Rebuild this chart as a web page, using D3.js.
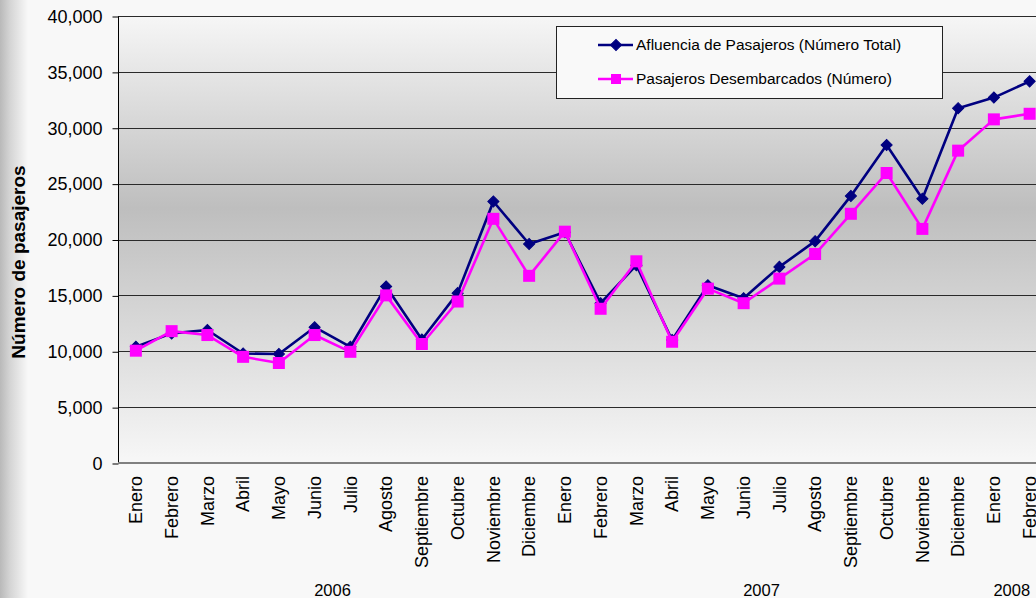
<!DOCTYPE html>
<html>
<head>
<meta charset="utf-8">
<script src="https://cdn.jsdelivr.net/npm/d3@7"></script>
<style>
  html, body { margin: 0; padding: 0; background: #f8f8f8; overflow: hidden; }
  svg { display: block; font-family: Arial, "Liberation Sans", sans-serif; }
</style>
</head>
<body>
<div id="chart"></div>
<script>
// month labels along the bottom (2006 Jan .. 2008 Feb)
const months = ['Enero', 'Febrero', 'Marzo', 'Abril', 'Mayo', 'Junio', 'Julio', 'Agosto', 'Septiembre', 'Octubre', 'Noviembre', 'Diciembre',
  'Enero', 'Febrero', 'Marzo', 'Abril', 'Mayo', 'Junio', 'Julio', 'Agosto', 'Septiembre', 'Octubre', 'Noviembre', 'Diciembre',
  'Enero', 'Febrero'];
const yearLabels = ['2006', '2007', '2008'];
const yearFirst = [0, 12, 24];
const yearLast = [11, 23, 25];

// Afluencia de Pasajeros (Número Total)
const totalPax = [10400, 11600, 11900, 9800, 9750, 12150, 10400, 15800, 11050, 15200, 23400, 19600,
  20650, 14300, 17700, 11000, 15900, 14750, 17550, 19850, 23900, 28450, 23650, 31750,
  32700, 34150];
// Pasajeros Desembarcados (Número)
const desembPax = [10050, 11800, 11450, 9500, 8950, 11450, 9950, 15000, 10650, 14450, 21850, 16750,
  20700, 13800, 18050, 10850, 15600, 14300, 16500, 18700, 22300, 25950, 20950, 27950,
  30750, 31250];

const yTicks = [0, 5000, 10000, 15000, 20000, 25000, 30000, 35000, 40000];

const width = 1036;
const height = 598;
const plot = { left: 118, top: 16, bottom: 463, step: 35.75 };

const svg = d3.select('#chart').append('svg').attr('width', width).attr('height', height);
const defs = svg.append('defs');

// backgrounds
const sideGrad = defs.append('linearGradient').attr('id', 'side').attr('x1', 0).attr('x2', 1).attr('y1', 0).attr('y2', 0);
sideGrad.append('stop').attr('offset', '0%').attr('stop-color', '#b9b9b9');
sideGrad.append('stop').attr('offset', '35%').attr('stop-color', '#d4d4d4');
sideGrad.append('stop').attr('offset', '100%').attr('stop-color', '#f8f8f8');

const plotGrad = defs.append('linearGradient').attr('id', 'plotbg').attr('x1', 0).attr('x2', 0).attr('y1', 0).attr('y2', 1);
plotGrad.append('stop').attr('offset', '0%').attr('stop-color', '#f6f6f6');
plotGrad.append('stop').attr('offset', '43%').attr('stop-color', '#bebebe');
plotGrad.append('stop').attr('offset', '100%').attr('stop-color', '#f7f7f7');

svg.append('rect').attr('width', width).attr('height', height).attr('fill', '#f8f8f8');
svg.append('rect').attr('width', 28).attr('height', height).attr('fill', 'url(#side)');

const x = d3.scaleBand()
  .domain(d3.range(months.length))
  .range([plot.left, plot.left + plot.step * months.length])
  .padding(0);
const cx = (i) => x(i) + x.bandwidth() / 2;

const y = d3.scaleLinear().domain([0, 40000]).range([plot.bottom, plot.top]);

svg.append('rect')
  .attr('x', plot.left).attr('y', plot.top)
  .attr('width', x.range()[1] - plot.left).attr('height', plot.bottom - plot.top)
  .attr('fill', 'url(#plotbg)');

// gridlines
svg.append('g')
  .selectAll('line')
  .data(yTicks.filter((d) => d > 0))
  .join('line')
  .attr('x1', plot.left).attr('x2', x.range()[1])
  .attr('y1', (d) => Math.round(y(d)) + 0.5).attr('y2', (d) => Math.round(y(d)) + 0.5)
  .attr('stroke', '#2a2a2a').attr('stroke-width', 1);

// y axis
const yAxis = d3.axisLeft(y).tickValues(yTicks).tickSize(6).tickPadding(10).tickFormat(d3.format(','));
const gy = svg.append('g').attr('transform', `translate(${plot.left + 0.5},0.5)`).call(yAxis);
gy.select('.domain').attr('stroke', '#000').attr('d', `M0,${plot.top}V${plot.bottom}`);
gy.selectAll('.tick line').attr('stroke', '#000');
gy.selectAll('.tick text').attr('font-size', 18).attr('fill', '#000').attr('font-family', 'Arial, "Liberation Sans", sans-serif');

// x axis line
svg.append('line')
  .attr('x1', plot.left).attr('x2', x.range()[1])
  .attr('y1', plot.bottom).attr('y2', plot.bottom)
  .attr('stroke', '#808080').attr('stroke-width', 2);

// month labels
svg.append('g')
  .selectAll('text')
  .data(months)
  .join('text')
  .attr('transform', (d, i) => `translate(${cx(i)},${plot.bottom + 13}) rotate(-90)`)
  .attr('text-anchor', 'end')
  .attr('dy', '0.35em')
  .attr('font-size', 18)
  .attr('fill', '#000')
  .text((d) => d);

// year labels
svg.append('g')
  .selectAll('text')
  .data(yearLabels)
  .join('text')
  .attr('x', (d, i) => (cx(yearFirst[i]) + cx(yearLast[i])) / 2)
  .attr('y', 596)
  .attr('text-anchor', 'middle')
  .attr('font-size', 16.5)
  .attr('fill', '#000')
  .text((d) => d);

// axis title
svg.append('text')
  .attr('transform', `translate(25,262) rotate(-90)`)
  .attr('text-anchor', 'middle')
  .attr('font-size', 19)
  .attr('font-weight', 'bold')
  .attr('fill', '#000')
  .text('Número de pasajeros');

// series
const line = d3.line().x((d, i) => cx(i)).y((d) => y(d));
const diamond = d3.symbol().type(d3.symbolSquare).size(62);
const square = d3.symbol().type(d3.symbolSquare).size(144);

const series = [
  { name: 'Afluencia de Pasajeros (Número Total)', values: totalPax, color: '#000080', kind: 'diamond' },
  { name: 'Pasajeros Desembarcados (Número)', values: desembPax, color: '#ff00ff', kind: 'square' },
];

function marker(sel, s) {
  if (s.kind === 'diamond') {
    sel.attr('d', diamond()).attr('fill', s.color).attr('stroke', s.color).attr('stroke-width', 1);
    return 45;
  }
  sel.attr('d', square()).attr('fill', s.color);
  return 0;
}

series.forEach((s) => {
  const g = svg.append('g');
  g.append('path')
    .datum(s.values)
    .attr('d', line)
    .attr('fill', 'none')
    .attr('stroke', s.color)
    .attr('stroke-width', 2.6)
    .attr('stroke-linejoin', 'round');
  g.selectAll('path.pt')
    .data(s.values)
    .join('path')
    .attr('class', 'pt')
    .each(function (d, i) {
      const rot = marker(d3.select(this), s);
      d3.select(this).attr('transform', `translate(${cx(i)},${y(d)}) rotate(${rot})`);
    });
});

// legend
const legend = svg.append('g');
legend.append('rect')
  .attr('x', 556.5).attr('y', 26.5).attr('width', 386).attr('height', 72)
  .attr('fill', '#f9f9f9').attr('stroke', '#222').attr('stroke-width', 1);
const legY = [45, 79];
series.forEach((s, i) => {
  legend.append('line')
    .attr('x1', 598).attr('x2', 633).attr('y1', legY[i]).attr('y2', legY[i])
    .attr('stroke', s.color).attr('stroke-width', 2.6);
  const m = legend.append('path');
  const rot = marker(m, s);
  if (s.kind === 'square') m.attr('d', d3.symbol().type(d3.symbolSquare).size(100)());
  m.attr('transform', `translate(616,${legY[i]}) rotate(${rot})`);
  legend.append('text')
    .attr('x', 636).attr('y', legY[i])
    .attr('dy', '0.35em')
    .attr('font-size', 15.5)
    .attr('fill', '#000')
    .text(s.name);
});
</script>
</body>
</html>
